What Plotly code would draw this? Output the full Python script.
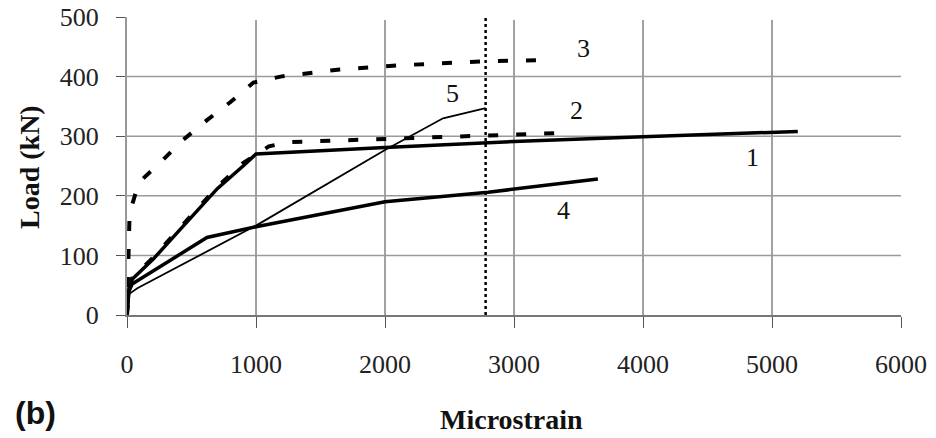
import plotly.graph_objects as go

# ---- data ----
c1_x = [0, 15, 40, 200, 360, 530, 700, 900, 1000, 2000, 3000, 4000, 5200]
c1_y = [0, 45, 60, 93, 131, 171, 212, 250, 270, 281, 291, 299, 308]

c2_x = [0, 15, 40, 200, 360, 530, 700, 900, 1100, 1250, 2000, 2800, 3320]
c2_y = [0, 45, 62, 96, 134, 174, 215, 255, 283, 290, 295, 302, 305]

c3_x = [0, 10, 20, 90, 250, 430, 620, 800, 980, 1190, 1650, 2120, 2790, 3300]
c3_y = [0, 100, 170, 222, 254, 293, 327, 357, 390, 400, 412, 419, 426, 428]

c4_x = [0, 15, 40, 620, 1000, 2000, 2800, 3650]
c4_y = [0, 40, 52, 130, 148, 190, 206, 228]

c5_x = [0, 15, 80, 1000, 2000, 2450, 2780]
c5_y = [0, 35, 45, 150, 277, 330, 347]

limit_x = [2780, 2780]
limit_y = [0, 500]

label_text = ["1", "2", "3", "4", "5"]
label_x = [4845, 3488, 3535, 3380, 2527]
label_y = [265, 343, 447, 176, 372]

x_ticks = [0, 1000, 2000, 3000, 4000, 5000, 6000]
y_ticks = [0, 100, 200, 300, 400, 500]
x_grid = [1000, 2000, 3000, 4000, 5000]
y_grid = [100, 200, 300, 400]

SERIF = "Liberation Serif, Times New Roman, serif"

fig = go.Figure()

dash_style = "10px,18px"
fig.add_trace(go.Scatter(x=c3_x, y=c3_y, mode="lines",
                         line=dict(color="black", width=4, dash=dash_style)))
fig.add_trace(go.Scatter(x=c2_x, y=c2_y, mode="lines",
                         line=dict(color="black", width=4, dash=dash_style)))
fig.add_trace(go.Scatter(x=c1_x, y=c1_y, mode="lines",
                         line=dict(color="black", width=3.5)))
fig.add_trace(go.Scatter(x=c4_x, y=c4_y, mode="lines",
                         line=dict(color="black", width=3.5)))
fig.add_trace(go.Scatter(x=c5_x, y=c5_y, mode="lines",
                         line=dict(color="black", width=1.8)))
fig.add_trace(go.Scatter(x=limit_x, y=limit_y, mode="lines",
                         line=dict(color="black", width=2.5, dash="dot")))

shapes = []
for gx in x_grid:
    shapes.append(dict(type="line", xref="x", yref="y", x0=gx, x1=gx,
                       y0=y_ticks[0], y1=y_ticks[-1] * 0.99, layer="below",
                       line=dict(color="#444", width=1)))
for gy in y_grid:
    shapes.append(dict(type="line", xref="x", yref="y", x0=x_ticks[0], x1=x_ticks[-1],
                       y0=gy, y1=gy, layer="below",
                       line=dict(color="#9a9a9a", width=1.5)))

annotations = []
for t, lx, ly in zip(label_text, label_x, label_y):
    annotations.append(dict(x=lx, y=ly, xref="x", yref="y", text=t, showarrow=False,
                            font=dict(family=SERIF, size=26, color="#111"),
                            xanchor="center", yanchor="middle"))
annotations.append(dict(x=29, y=167, xref="paper", yref="paper", text="<b>Load (kN)</b>",
                        showarrow=False, textangle=-90,
                        font=dict(family=SERIF, size=28, color="#111"),
                        xanchor="center", yanchor="middle"))
annotations.append(dict(x=511, y=419, xref="paper", yref="paper", text="<b>Microstrain</b>",
                        showarrow=False,
                        font=dict(family=SERIF, size=28, color="#111"),
                        xanchor="center", yanchor="middle"))
annotations.append(dict(x=35, y=413, xref="paper", yref="paper", text="<b>(b)</b>",
                        showarrow=False,
                        font=dict(family="Liberation Sans, Arial, sans-serif", size=32, color="#111"),
                        xanchor="center", yanchor="middle"))

# convert pixel-placed annotations to paper coordinates
W, H = 936, 438
ML, MR, MT, MB = 127, 35, 17, 123
pw, ph = W - ML - MR, H - MT - MB
for a in annotations:
    if a["xref"] == "paper":
        a["x"] = (a["x"] - ML) / pw
        a["y"] = (H - MB - a["y"]) / ph

fig.update_layout(
    width=W, height=H,
    margin=dict(l=ML, r=MR, t=MT, b=MB, pad=0, autoexpand=False),
    paper_bgcolor="white", plot_bgcolor="white",
    showlegend=False,
    shapes=shapes,
    annotations=annotations,
    xaxis=dict(range=[x_ticks[0], x_ticks[-1]], tickvals=x_ticks,
               ticktext=[str(v) for v in x_ticks],
               ticks="outside", ticklen=11, tickwidth=1.2, tickcolor="#555",
               showline=True, linecolor="#777", linewidth=1.5,
               showgrid=False, zeroline=False, automargin=False,
               tickfont=dict(family=SERIF, size=26, color="#222"),
               ticklabelstandoff=14),
    yaxis=dict(range=[y_ticks[0], y_ticks[-1]], tickvals=y_ticks,
               ticktext=[str(v) for v in y_ticks],
               ticks="outside", ticklen=9, tickwidth=1.2, tickcolor="#555",
               showline=True, linecolor="#999", linewidth=2,
               showgrid=False, zeroline=False, automargin=False,
               tickfont=dict(family=SERIF, size=26, color="#222"),
               ticklabelstandoff=12),
)

fig.write_html("out.html", config={"displayModeBar": False},
               post_script="document.body.style.margin='0';")
